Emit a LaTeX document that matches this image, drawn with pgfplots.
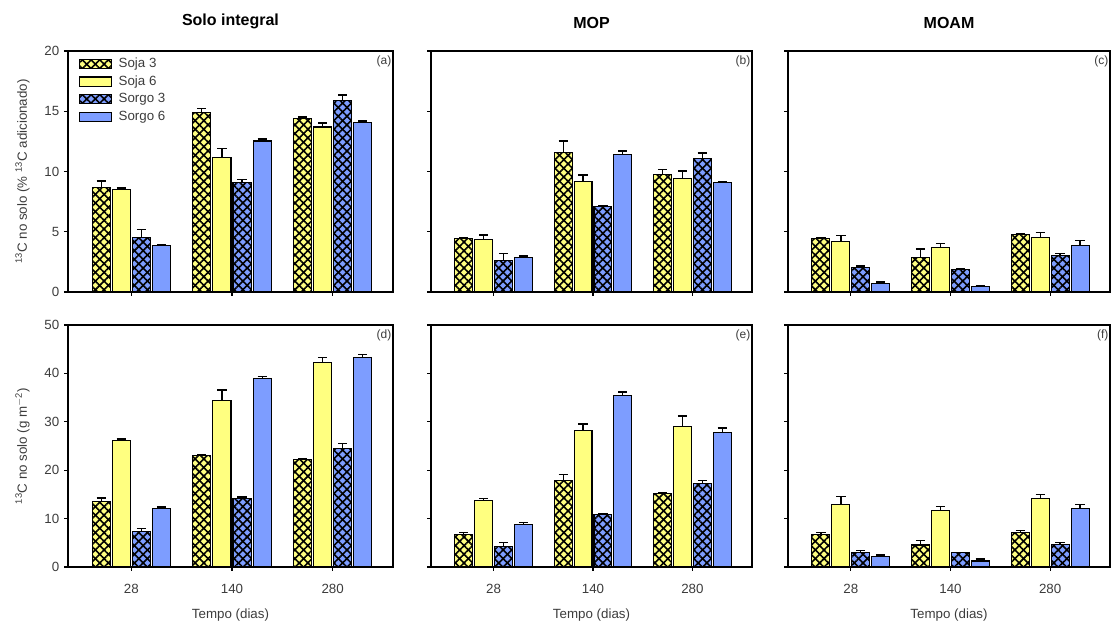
\documentclass[border=0pt]{standalone}
\usepackage{pgfplots}
\pgfplotsset{compat=1.18}
\usepackage{pgfplotstable}
\usetikzlibrary{patterns.meta}
\usepackage{fontspec}
\setmainfont{Liberation Sans}

\definecolor{yel}{RGB}{255,255,128}
\definecolor{blu}{RGB}{125,157,255}
\definecolor{txt}{RGB}{60,60,60}

\pgfplotstableread{
x s3 e1 s6 e2 g3 e3 g6 e4
0 8.69 0.53 8.47 0.15 4.53 0.67 3.83 0.10
1 14.86 0.36 11.19 0.70 9.06 0.30 12.53 0.17
2 14.39 0.14 13.69 0.33 15.92 0.42 14.03 0.17
}\tabA
\pgfplotstableread{
x s3 e1 s6 e2 g3 e3 g6 e4
0 4.42 0.11 4.39 0.33 2.64 0.56 2.86 0.14
1 11.56 0.97 9.19 0.53 7.08 0.11 11.39 0.31
2 9.72 0.47 9.39 0.64 11.06 0.47 9.06 0.11
}\tabB
\pgfplotstableread{
x s3 e1 s6 e2 g3 e3 g6 e4
0 4.42 0.11 4.19 0.50 2.06 0.11 0.69 0.14
1 2.89 0.67 3.69 0.33 1.86 0.05 0.42 0.08
2 4.75 0.11 4.53 0.39 3.06 0.14 3.89 0.36
}\tabC
\pgfplotstableread{
x s3 e1 s6 e2 g3 e3 g6 e4
0 13.45 0.83 26.14 0.34 7.24 0.76 12.00 0.41
1 22.97 0.28 34.48 2.07 14.20 0.28 39.03 0.28
2 22.14 0.28 42.34 0.90 24.48 0.97 43.38 0.55
}\tabD
\pgfplotstableread{
x s3 e1 s6 e2 g3 e3 g6 e4
0 6.76 0.34 13.79 0.34 4.28 0.83 8.83 0.34
1 17.93 1.24 28.28 1.24 10.90 0.10 35.38 0.76
2 15.10 0.28 29.10 2.07 17.17 0.76 27.86 0.83
}\tabE
\pgfplotstableread{
x s3 e1 s6 e2 g3 e3 g6 e4
0 6.76 0.34 12.90 1.72 2.97 0.41 2.14 0.34
1 4.55 0.97 11.66 0.90 2.97 0.05 1.24 0.41
2 7.10 0.41 14.14 0.90 4.62 0.41 12.07 0.90
}\tabF

\tikzset{
  xhatch/.style={
    postaction={pattern={Lines[angle=45,distance=4.6pt,line width=1.2pt]},pattern color=black},
    postaction={pattern={Lines[angle=-45,distance=4.6pt,line width=1.2pt]},pattern color=black}},
}

\pgfplotsset{
  every axis title/.style={at={(0.5,1)},anchor=south,yshift=13pt},
  every axis y label/.style={at={(axis description cs:-0.14,0.5)},rotate=90,anchor=center},
  every axis x label/.style={at={(axis description cs:0.5,0)},anchor=center,yshift=-36pt},
  lg/.style={legend image code/.code={\draw[##1] (0pt,-3.4pt) rectangle (24pt,3.4pt);}},
  panel/.style={
    ybar, scale only axis, anchor=south west,
    xmin=-0.63, xmax=2.6, ymin=0,
    bar width=0.18,
    xtick={0,1,2},
    tick align=outside, xtick pos=left, ytick pos=left,
    major tick length=3pt,
    tick style={black, line width=0.8pt},
    axis line style={black, line width=0.9pt},
    title style={font=\fontsize{12}{14}\selectfont\bfseries, text=black},
    label style={font=\fontsize{10}{12}\selectfont, text=txt},
    tick label style={font=\fontsize{10}{12}\selectfont, text=txt},
    xticklabel style={yshift=-6pt},
    /pgf/number format/assume math mode=true,
    error bars/y dir=plus, error bars/y explicit,
    error bars/error bar style={black, line width=1pt},
    error bars/error mark options={black, rotate=90, mark size=3.5pt, line width=1pt},
  },
  toprow/.style={ymax=20, ytick={0,5,10,15,20}, xticklabels={,,}, height=180.75pt},
  botrow/.style={ymax=50, ytick={0,10,20,30,40,50}, xticklabels={28,140,280}, height=181.5pt, xlabel={Tempo (dias)}},
}

\newcommand\panelbars[1]{%
  \addplot[lg, draw=black, line width=0.8pt, fill=yel, xhatch, bar shift=-0.3] table[x=x,y=s3,y error=e1]{#1};
  \addplot[lg, draw=black, line width=0.8pt, fill=yel, bar shift=-0.1] table[x=x,y=s6,y error=e2]{#1};
  \addplot[lg, draw=black, line width=0.8pt, fill=blu, xhatch, bar shift=0.1] table[x=x,y=g3,y error=e3]{#1};
  \addplot[lg, draw=black, line width=0.8pt, fill=blu, bar shift=0.3] table[x=x,y=g6,y error=e4]{#1};
}
\newcommand\plabel[1]{\node[anchor=north east, inner sep=1pt, font=\fontsize{9}{10}\selectfont, text=txt] at (rel axis cs:1,0.985) {#1};}

\begin{document}
\begin{tikzpicture}
\useasboundingbox (0,0) rectangle (833.25pt,471pt);

% (a)
\begin{axis}[panel, toprow, at={(51pt,252pt)}, width=243.75pt,
  title={Solo integral},
  ylabel={\textsuperscript{13}C no solo (\% \textsuperscript{13}C adicionado)},
  legend style={draw=none, fill=none, at={(axis description cs:0,1)}, anchor=north west,
    xshift=5pt, yshift=-2pt, font=\fontsize{10}{12}\selectfont, text=txt,
    nodes={inner sep=1pt}, row sep=2.6pt, column sep=4pt},
  legend cell align=left]
\panelbars{\tabA}
\legend{Soja 3, Soja 6, Sorgo 3, Sorgo 6}
\plabel{(a)}
\end{axis}

% (b)
\begin{axis}[panel, toprow, at={(323.25pt,252pt)}, width=240.75pt,
  title={MOP}, yticklabels={,,,,,}]
\panelbars{\tabB}
\plabel{(b)}
\end{axis}

% (c)
\begin{axis}[panel, toprow, at={(591pt,252pt)}, width=241.5pt,
  title={MOAM}, yticklabels={,,,,,}]
\panelbars{\tabC}
\plabel{(c)}
\end{axis}

% (d)
\begin{axis}[panel, botrow, at={(51pt,45.75pt)}, width=243.75pt,
  ylabel={\textsuperscript{13}C no solo (g m\textsuperscript{$-$2})}]
\panelbars{\tabD}
\plabel{(d)}
\end{axis}

% (e)
\begin{axis}[panel, botrow, at={(323.25pt,45.75pt)}, width=240.75pt, yticklabels={,,,,,,}]
\panelbars{\tabE}
\plabel{(e)}
\end{axis}

% (f)
\begin{axis}[panel, botrow, at={(591pt,45.75pt)}, width=241.5pt, yticklabels={,,,,,,}]
\panelbars{\tabF}
\plabel{(f)}
\end{axis}
\end{tikzpicture}
\end{document}
